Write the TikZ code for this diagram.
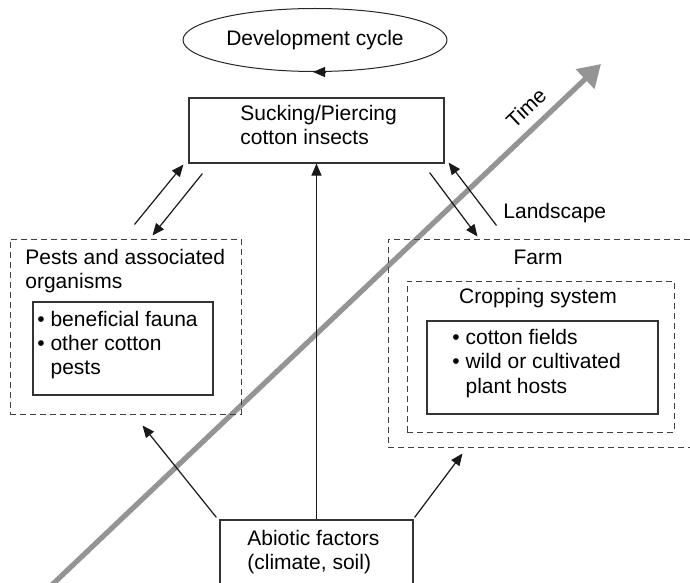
\documentclass[tikz,border=0pt]{standalone}
\usepackage{fontspec}
\setmainfont{Liberation Sans}
\usetikzlibrary{arrows.meta,shapes.geometric}

\tikzset{
  every node/.style={font=\fontsize{10.5}{12.2}\selectfont},
  solidbox/.style={draw=black!80, line width=0.6pt, inner sep=0pt},
  dashbox/.style={draw=black!75, line width=0.5pt, dash pattern=on 3pt off 2pt, inner sep=0pt},
  txt/.style={inner sep=0pt, align=left},
  arr/.style={draw=black!90, line width=0.6pt, -{Triangle[length=6pt,width=5pt]}},
  timearrow/.style={draw=black!42, line width=2.6pt, -{Triangle[length=11pt,width=13pt]}},
}

\begin{document}
\begin{tikzpicture}[x=0.5pt, y=-0.5pt]
  \useasboundingbox (0,0) rectangle (690,583);

  % time axis
  \coordinate (tstart) at (36,600);
  \coordinate (tend) at (601,64);
  \draw[timearrow] (tstart) -- (tend);
  \node[txt, rotate=43.5] (time) at (526,108) {Time};

  % boxes
  \node[draw=black!85, line width=0.5pt, ellipse, inner sep=0pt,
        minimum width=132pt, minimum height=31.5pt] (devcyc) at (315,40) {Development cycle};
  \node[solidbox, minimum width=127.5pt, minimum height=32.5pt] (suck) at (316.5,130.5) {};
  \node[dashbox, minimum width=115.5pt, minimum height=87.5pt] (pests) at (125.5,326.5) {};
  \node[solidbox, minimum width=90pt, minimum height=46.5pt] (pestlist) at (123,348.5) {};
  \node[dashbox, minimum width=171pt, minimum height=104pt] (farm) at (559,343) {};
  \node[dashbox, minimum width=133.5pt, minimum height=75.5pt] (crop) at (540.5,356.5) {};
  \node[solidbox, minimum width=115.5pt, minimum height=46.5pt] (croplist) at (542.5,367.5) {};
  \node[solidbox, minimum width=96.5pt, minimum height=40pt] (abiotic) at (316.5,560) {};

  % texts
  \node[txt, anchor=west] (suckT) at (240,125) {Sucking/Piercing\\cotton insects};
  \node[txt, anchor=west] (pestsT) at (25,271) {Pests and associated\\organisms};
  \node[txt, anchor=west] (pestlistT) at (37,345)
    {\textbullet\ beneficial fauna\\\textbullet\ other cotton\\\phantom{\textbullet\ }pests};
  \node[txt] (farmT) at (538,257) {Farm};
  \node[txt] (cropT) at (538,298) {Cropping system};
  \node[txt, anchor=west] (croplistT) at (452,363.5)
    {\textbullet\ cotton fields\\\textbullet\ wild or cultivated\\\phantom{\textbullet\ }plant hosts};
  \node[txt, anchor=west] (abioticT) at (247,552) {Abiotic factors\\(climate, soil)};
  \node[txt, anchor=west] (landscape) at (503,213) {Landscape};

  % cycle direction
  \draw[arr] ([xshift=5pt]devcyc.south) -- ([xshift=-1pt]devcyc.south);

  % exchanges with the insects
  \draw[arr] ([shift={(125,-14)}]pests.north west) -- ([shift={(-5,1)}]suck.south west);
  \draw[arr] ([shift={(14,10)}]suck.south west) -- ([shift={(143,-3)}]pests.north west);
  \draw[arr] ([shift={(-15,9)}]suck.south east) -- ([shift={(90,-2)}]farm.north west);
  \draw[arr] ([shift={(109,-13)}]farm.north west) -- ([shift={(4,-1)}]suck.south east);

  % abiotic influences
  \draw[arr] (abiotic.north) -- (suck.south);
  \draw[arr] ([shift={(-3,-2)}]abiotic.north west) -- ([shift={(133,11)}]pests.south west);
  \draw[arr] ([shift={(1,-2)}]abiotic.north east) -- ([shift={(75,6)}]farm.south west);
\end{tikzpicture}
\end{document}
